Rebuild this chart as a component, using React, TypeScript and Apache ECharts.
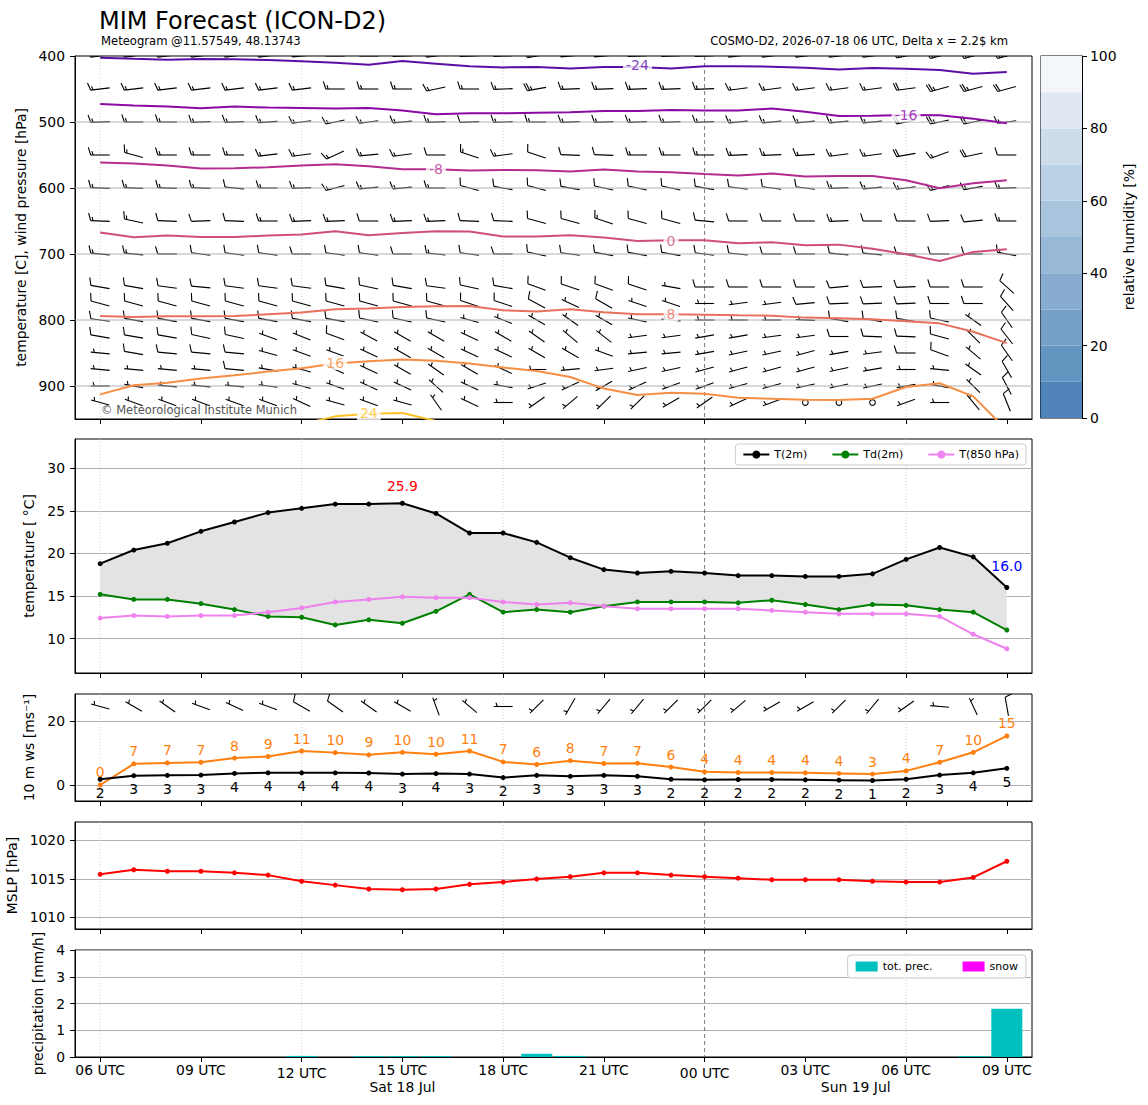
import React, { useEffect, useRef } from "react";
import * as echarts from "echarts";

const FONT = "DejaVu Sans";
const FS = 13.9;

// ---------- time axis ----------
const xMin = -0.75;
const xMax = 27.75;
const xTickValues = [0, 3, 6, 9, 12, 15, 18, 21, 24, 27];
const xTickLabels = ["06 UTC", "09 UTC", "12 UTC", "15 UTC", "18 UTC", "21 UTC", "00 UTC", "03 UTC", "06 UTC", "09 UTC"];
const lowTickLabels = ["12 UTC", "00 UTC"];
const dateLabelPos = [9, 22.5];
const dateLabels = ["Sat 18 Jul", "Sun 19 Jul"];
const sixHourLines = [0, 6, 12, 24];
const midnightLines = [18];

// ---------- surface data ----------
const t2m = [18.8, 20.4, 21.2, 22.6, 23.7, 24.8, 25.3, 25.8, 25.8, 25.9, 24.7, 22.4, 22.4, 21.3, 19.5, 18.1, 17.7, 17.9, 17.7, 17.4, 17.4, 17.3, 17.3, 17.6, 19.3, 20.7, 19.6, 16.0];
const td2m = [15.2, 14.6, 14.6, 14.1, 13.4, 12.6, 12.5, 11.6, 12.2, 11.8, 13.2, 15.2, 13.1, 13.4, 13.1, 13.8, 14.3, 14.3, 14.3, 14.2, 14.5, 14.0, 13.4, 14.0, 13.9, 13.4, 13.1, 11.0];
const t850 = [12.4, 12.7, 12.6, 12.7, 12.7, 13.1, 13.6, 14.3, 14.6, 14.9, 14.8, 14.8, 14.3, 14.0, 14.2, 13.8, 13.5, 13.5, 13.5, 13.5, 13.3, 13.1, 12.9, 12.9, 12.9, 12.6, 10.5, 8.8];
const gust = [0.0, 6.6, 6.9, 7.1, 8.4, 8.9, 10.6, 10.1, 9.4, 10.2, 9.6, 10.6, 7.2, 6.4, 7.6, 6.7, 6.8, 5.6, 4.1, 3.9, 3.9, 3.8, 3.6, 3.4, 4.4, 7.1, 10.2, 15.3];
const wspd = [1.8, 2.9, 3.0, 3.1, 3.6, 3.8, 3.8, 3.8, 3.75, 3.4, 3.55, 3.4, 2.3, 3.0, 2.7, 3.0, 2.7, 1.8, 1.6, 1.7, 1.7, 1.6, 1.5, 1.4, 1.8, 3.1, 3.8, 5.2];
const mslp = [1015.6, 1016.2, 1016.0, 1016.0, 1015.8, 1015.5, 1014.7, 1014.2, 1013.7, 1013.6, 1013.7, 1014.3, 1014.6, 1015.0, 1015.3, 1015.8, 1015.8, 1015.5, 1015.3, 1015.1, 1014.9, 1014.9, 1014.9, 1014.7, 1014.6, 1014.6, 1015.2, 1017.3];
const precip = [0, 0, 0, 0, 0, 0, 0.04, 0, 0.03, 0.03, 0.03, 0, 0, 0.12, 0.04, 0, 0, 0, 0, 0, 0, 0, 0, 0, 0, 0, 0.03, 1.8];
const snow = [0, 0, 0, 0, 0, 0, 0, 0, 0, 0, 0, 0, 0, 0, 0, 0, 0, 0, 0, 0, 0, 0, 0, 0, 0, 0, 0, 0];
const dir10 = [285, 300, 305, 290, 295, 290, 300, 305, 305, 300, 340, 310, 270, 225, 210, 220, 220, 225, 225, 230, 240, 240, 225, 220, 235, 275, 335, 350];
const spd10 = [5, 5, 5, 5, 5, 5, 10, 10, 5, 5, 5, 5, 5, 5, 5, 5, 5, 5, 5, 5, 5, 5, 5, 5, 5, 5, 5, 10];
const barb10Level = 24.5;

// ---------- isotherms (pressure in hPa per hour) ----------
const isoLevels = [-24, -16, -8, 0, 8, 16, 24];
const isoColors = ["#5b0ea6", "#8b0aa5", "#b42d8e", "#cf4f78", "#e8705c", "#f68f44", "#fcc229"];
const isoM24 = [402.5, 404.1, 405.6, 404.6, 405.1, 406.1, 408.1, 410.2, 413.2, 407.6, 411.7, 415.7, 417.3, 416.8, 418.8, 416.8, 416.8, 418.8, 415.7, 415.7, 416.2, 417.8, 420.3, 418.3, 419.3, 421.3, 426.9, 424.4];
const isoM16 = [472.6, 475.1, 476.6, 479.2, 476.6, 478.2, 478.7, 479.7, 478.7, 482.7, 488.3, 486.8, 486.8, 485.8, 485.3, 483.2, 483.2, 481.7, 482.7, 482.7, 479.7, 484.3, 490.9, 490.4, 489.3, 489.8, 494.9, 502.0];
const isoM8 = [561.4, 562.9, 566.0, 570.6, 570.1, 568.5, 566.0, 564.0, 567.0, 571.6, 571.6, 573.6, 572.6, 573.1, 575.1, 572.1, 575.1, 576.1, 578.7, 581.2, 578.2, 582.7, 581.7, 581.7, 588.3, 600.5, 592.9, 588.3];
const iso0 = [667.5, 674.6, 672.1, 674.1, 674.1, 672.1, 670.6, 665.5, 671.6, 668.0, 665.5, 666.0, 673.6, 673.6, 671.6, 675.1, 680.2, 679.2, 679.2, 683.8, 682.2, 686.8, 685.8, 691.9, 700.5, 710.7, 697.0, 692.9];
const iso8 = [793.9, 795.4, 794.4, 794.4, 793.9, 791.4, 788.8, 783.8, 782.7, 780.2, 779.2, 778.7, 785.3, 787.3, 783.8, 788.3, 791.4, 791.4, 791.9, 792.9, 793.4, 796.4, 797.5, 799.0, 802.0, 805.1, 817.8, 835.0];
const iso16 = [912.7, 899.0, 894.9, 888.8, 883.8, 878.2, 873.1, 866.0, 862.4, 859.9, 861.9, 866.0, 872.1, 877.2, 886.3, 903.9, 913.7, 910.1, 911.7, 917.8, 919.3, 920.8, 921.3, 919.3, 901.5, 895.9, 915.7, 967.0];
const iso24 = [null, null, null, null, null, null, 958, 946, 942, 941, 953, null, null, null, null, null, null, null, null, null, null, null, null, null, null, null, null, null];
const isoLines = [isoM24, isoM16, isoM8, iso0, iso8, iso16, iso24];
const isoLabelX = [16.0, 24.0, 10.0, 17.0, 17.0, 7.0, 8.0];
const isoLabelP = [414, 489, 571, 680, 791, 865, 941];

// ---------- upper-air wind barbs ----------
const barbLevels = [400, 450, 500, 550, 600, 650, 700, 750, 775, 800, 825, 850, 875, 900, 925];
const barbDirs = [
  [262, 262, 262, 262, 262, 262, 265, 270, 270, 268, 262, 268, 268, 260, 265, 265, 268, 268, 268, 262, 262, 262, 262, 262, 258, 255, 255, 255],
  [263, 263, 263, 263, 263, 263, 263, 270, 270, 270, 258, 270, 268, 260, 268, 268, 268, 268, 268, 262, 262, 262, 262, 262, 262, 255, 255, 255],
  [268, 270, 270, 268, 268, 266, 262, 258, 262, 265, 268, 268, 268, 270, 268, 268, 268, 268, 268, 265, 265, 265, 265, 265, 258, 258, 258, 262],
  [270, 285, 270, 270, 270, 263, 262, 245, 265, 262, 270, 288, 262, 288, 272, 272, 270, 270, 270, 268, 268, 266, 262, 262, 260, 250, 258, 270],
  [272, 272, 272, 272, 275, 270, 268, 255, 265, 265, 270, 285, 280, 285, 280, 282, 282, 282, 280, 278, 278, 278, 268, 265, 262, 255, 260, 268],
  [272, 282, 272, 268, 272, 270, 268, 268, 270, 268, 268, 272, 272, 285, 285, 288, 285, 285, 275, 270, 270, 270, 268, 270, 270, 268, 265, 270],
  [275, 275, 270, 278, 278, 278, 270, 278, 278, 270, 276, 278, 270, 282, 278, 280, 280, 280, 278, 276, 270, 270, 275, 275, 270, 270, 270, 280],
  [280, 280, 278, 275, 278, 278, 278, 280, 282, 280, 278, 282, 280, 290, 288, 290, 288, 280, 270, 270, 270, 270, 265, 268, 268, 270, 270, 312],
  [285, 285, 285, 285, 285, 285, 285, 285, 285, 285, 285, 288, 288, 298, 295, 300, 288, 288, 270, 262, 262, 265, 268, 268, 268, 270, 270, 318],
  [278, 280, 280, 280, 280, 280, 280, 280, 282, 282, 282, 285, 292, 300, 305, 300, 282, 275, 270, 270, 270, 272, 280, 280, 280, 282, 305, 325],
  [280, 280, 280, 282, 282, 290, 292, 290, 298, 300, 300, 295, 300, 305, 310, 308, 262, 262, 260, 260, 262, 262, 270, 272, 272, 285, 315, 322],
  [275, 280, 275, 275, 275, 285, 290, 290, 295, 300, 300, 295, 295, 300, 300, 290, 265, 265, 260, 258, 258, 255, 260, 262, 270, 290, 310, 325],
  [275, 275, 275, 275, 275, 280, 285, 295, 295, 300, 305, 300, 295, 270, 265, 262, 258, 258, 255, 255, 255, 255, 258, 260, 270, 275, 305, 330],
  [270, 280, 275, 275, 275, 278, 285, 290, 295, 295, 312, 295, 280, 252, 245, 240, 245, 250, 250, 255, 255, 258, 258, 258, 260, 280, 315, 332],
  [285, 290, 290, 290, 290, 290, 295, 285, 290, 285, 325, 295, 270, 235, 230, 225, 225, 240, 235, 245, 250, 0, 0, 0, 250, 270, 320, 338],
];
const barbSpeeds = [
  [20, 20, 20, 20, 20, 20, 20, 20, 20, 20, 20, 20, 20, 20, 20, 20, 20, 20, 20, 20, 20, 20, 20, 20, 25, 25, 25, 25],
  [15, 15, 15, 15, 15, 15, 15, 15, 15, 15, 15, 15, 15, 25, 15, 15, 15, 15, 15, 15, 15, 15, 15, 15, 20, 25, 25, 20],
  [15, 15, 15, 15, 15, 15, 15, 15, 15, 15, 15, 10, 15, 15, 15, 15, 15, 15, 15, 15, 15, 15, 15, 15, 20, 25, 20, 15],
  [15, 15, 15, 15, 15, 15, 15, 15, 15, 15, 10, 15, 15, 10, 10, 10, 15, 15, 15, 15, 15, 15, 15, 15, 20, 15, 20, 10],
  [15, 15, 15, 15, 10, 15, 15, 15, 15, 15, 15, 10, 10, 10, 10, 10, 10, 10, 10, 10, 10, 10, 15, 15, 15, 15, 15, 15],
  [15, 15, 10, 10, 10, 15, 15, 15, 10, 15, 15, 10, 10, 10, 10, 15, 10, 10, 10, 10, 10, 10, 15, 10, 10, 10, 10, 15],
  [15, 15, 10, 10, 10, 10, 10, 10, 10, 10, 15, 10, 10, 10, 10, 10, 10, 10, 10, 10, 10, 10, 10, 10, 10, 10, 10, 15],
  [10, 10, 10, 10, 10, 10, 10, 10, 10, 10, 10, 10, 10, 10, 10, 10, 10, 5, 10, 10, 10, 10, 10, 10, 10, 10, 10, 10],
  [10, 10, 10, 10, 10, 10, 10, 10, 10, 10, 10, 10, 10, 10, 5, 10, 5, 5, 5, 5, 5, 10, 10, 10, 10, 10, 10, 10],
  [10, 10, 10, 10, 10, 10, 10, 10, 10, 10, 10, 5, 5, 5, 5, 5, 5, 5, 5, 5, 5, 5, 10, 10, 10, 10, 5, 10],
  [10, 10, 10, 10, 10, 5, 5, 10, 5, 5, 5, 5, 5, 5, 5, 5, 5, 5, 5, 5, 5, 5, 10, 10, 10, 10, 5, 10],
  [5, 10, 10, 10, 10, 5, 5, 5, 5, 5, 5, 5, 5, 5, 5, 5, 5, 5, 5, 5, 5, 5, 5, 5, 10, 10, 5, 10],
  [5, 5, 5, 5, 10, 5, 5, 5, 5, 5, 5, 5, 5, 5, 5, 5, 5, 5, 5, 5, 5, 5, 5, 5, 5, 5, 5, 10],
  [5, 5, 5, 5, 5, 5, 5, 5, 5, 5, 5, 5, 5, 5, 5, 5, 5, 5, 5, 5, 5, 5, 5, 5, 5, 5, 5, 10],
  [5, 5, 5, 5, 5, 5, 5, 5, 5, 5, 5, 5, 5, 5, 5, 5, 5, 5, 5, 5, 5, 0, 0, 0, 5, 5, 5, 10],
];
const pressureGridLevels = [500, 600, 700, 800, 900];

// ---------- colorbar ----------
const rhLevels = [0, 10, 20, 30, 40, 50, 60, 70, 80, 90, 100];
const rhColors = ["#5084b8", "#6395c1", "#75a0c8", "#87acd0", "#98b8d7", "#a9c5de", "#bbd1e6", "#cdddec", "#e0e9f3", "#f3f7fb"];

const BARB_LEN = 19;

function makeBarb(cx: number, cy: number, dir: number, spd: number, L: number) {
  const out: any[] = [];
  const st = { stroke: "#000", lineWidth: 1.1, fill: "none" };
  const mag = 5 * Math.round(spd / 5);
  if (mag < 5) {
    out.push({ type: "circle", shape: { cx, cy, r: 0.15 * L }, style: { ...st } });
    return out;
  }
  const a = (dir * Math.PI) / 180;
  const dx = Math.sin(a);
  const dy = -Math.cos(a);
  const nx = -dy;
  const ny = dx;
  const ex = cx + (dx * L) / 2;
  const ey = cy + (dy * L) / 2;
  const sx = cx - (dx * L) / 2;
  const sy = cy - (dy * L) / 2;
  out.push({ type: "line", shape: { x1: sx, y1: sy, x2: ex, y2: ey }, style: { ...st } });
  const H = 0.4 * L;
  const Wd = 0.25 * L;
  const S = 0.125 * L;
  const full = Math.floor(mag / 10);
  const half = mag - full * 10 >= 5;
  let off = 0;
  for (let i = 0; i < full; i++) {
    const bx = ex - dx * off;
    const by = ey - dy * off;
    out.push({ type: "line", shape: { x1: bx, y1: by, x2: bx + nx * H + (dx * Wd) / 2, y2: by + ny * H + (dy * Wd) / 2 }, style: { ...st } });
    off += S;
  }
  if (half) {
    if (off === 0) off = 1.5 * S;
    const bx = ex - dx * off;
    const by = ey - dy * off;
    out.push({ type: "line", shape: { x1: bx, y1: by, x2: bx + (nx * H) / 2 + (dx * Wd) / 4, y2: by + (ny * H) / 2 + (dy * Wd) / 4 }, style: { ...st } });
  }
  return out;
}

const barbRender = (params: any, api: any) => {
  const c = api.coord([api.value(0), api.value(1)]);
  return { type: "group", silent: true, children: makeBarb(c[0], c[1], api.value(2), api.value(3), BARB_LEN) };
};

const vlineRender = (params: any, api: any) => {
  const x = api.coord([api.value(0), api.value(1)])[0];
  const cs = params.coordSys;
  const dashed = api.value(2) === 1;
  return {
    type: "line",
    silent: true,
    shape: { x1: x, y1: cs.y, x2: x, y2: cs.y + cs.height },
    style: dashed ? { stroke: "#555", lineWidth: 0.8, lineDash: [4, 3] } : { stroke: "#c4c4c4", lineWidth: 0.8, lineDash: [1, 2] },
  };
};

function vlineSeries(gi: number, yRef: number) {
  const data = [...sixHourLines.map((v) => [v, yRef, 0]), ...midnightLines.map((v) => [v, yRef, 1])];
  return { type: "custom", name: "vlines" + gi, xAxisIndex: gi, yAxisIndex: gi, data, renderItem: vlineRender, silent: true, z: 1, encode: { x: 0, y: 1 } };
}

function xTickFormatter(v: number) {
  const i = xTickValues.indexOf(Math.round(v));
  const s = i >= 0 ? xTickLabels[i] : "";
  return lowTickLabels.includes(s) ? `{lo|${s}}` : s;
}

function xAxisFor(gi: number, showLabels: boolean) {
  return {
    type: "value",
    gridIndex: gi,
    min: xMin,
    max: xMax,
    axisLine: { show: true, onZero: false, lineStyle: { color: "#000", width: 1 } },
    axisTick: { show: true, customValues: xTickValues, length: 5, lineStyle: { color: "#000", width: 1 } },
    axisLabel: {
      show: showLabels,
      customValues: xTickValues,
      formatter: xTickFormatter,
      margin: 6,
      color: "#000",
      fontSize: FS,
      fontFamily: FONT,
      rich: { lo: { padding: [3, 0, 0, 0], fontSize: FS, fontFamily: FONT, color: "#000" } },
    },
    splitLine: { show: false },
  };
}

function yAxisFor(gi: number, o: any) {
  return {
    type: "value",
    gridIndex: gi,
    axisLine: { show: true, onZero: false, lineStyle: { color: "#000", width: 1 } },
    axisTick: { show: true, length: 5, lineStyle: { color: "#000" }, customValues: o.ticks },
    axisLabel: { color: "#000", fontSize: FS, fontFamily: FONT, margin: 10, customValues: o.ticks, formatter: (v: number) => String(v) },
    splitLine: { show: o.split !== false, lineStyle: { color: "#b0b0b0", width: 1 } },
    nameLocation: "middle",
    nameTextStyle: { color: "#000", fontSize: FS, fontFamily: FONT },
    ...o.extra,
  };
}

function buildOption() {
  const hours = t2m.map((_, i) => i);
  const pairs = (arr: any[]) => arr.map((v, i) => [hours[i], v]).filter((d) => d[1] !== null);

  const barbData: any[] = [];
  barbLevels.forEach((p, r) => {
    barbDirs[r].forEach((d, i) => barbData.push([hours[i], p, d, barbSpeeds[r][i]]));
  });
  const barb10Data = dir10.map((d, i) => [hours[i], barb10Level, d, spd10[i]]);

  const tMax = Math.max(...t2m);
  const iMax = t2m.indexOf(tMax);
  const tMin = Math.min(...t2m);
  const iMin = t2m.lastIndexOf(tMin);

  const grids = [
    { left: 75, top: 56, width: 957, height: 363 },
    { left: 75, top: 439, width: 957, height: 234 },
    { left: 75, top: 694, width: 957, height: 107 },
    { left: 75, top: 822, width: 957, height: 107 },
    { left: 75, top: 950, width: 957, height: 107 },
    { left: 1040.5, top: 56, width: 41.5, height: 362 },
  ].map((g) => ({ ...g, show: true, borderColor: "#000", borderWidth: 1, backgroundColor: "transparent", containLabel: false, outerBoundsMode: "none" }));

  const xAxes: any[] = [
    xAxisFor(0, false),
    xAxisFor(1, false),
    xAxisFor(2, false),
    xAxisFor(3, false),
    xAxisFor(4, true),
    { type: "value", gridIndex: 5, min: 0, max: 1, show: false },
    {
      type: "value",
      gridIndex: 4,
      position: "bottom",
      min: xMin,
      max: xMax,
      axisLine: { show: false, onZero: false },
      axisTick: { show: false, customValues: dateLabelPos },
      splitLine: { show: false },
      axisLabel: {
        show: true,
        customValues: dateLabelPos,
        margin: 23,
        color: "#000",
        fontSize: FS,
        fontFamily: FONT,
        formatter: (v: number) => {
          const i = dateLabelPos.indexOf(v);
          return i >= 0 ? dateLabels[i] : "";
        },
      },
    },
  ];

  const yAxes: any[] = [
    yAxisFor(0, { ticks: [400, 500, 600, 700, 800, 900], split: false, extra: { inverse: true, min: 400, max: 950, name: "temperature [C], wind pressure [hPa]", nameGap: 43 } }),
    yAxisFor(1, { ticks: [10, 15, 20, 25, 30], extra: { min: 5.95, max: 33.45, name: "temperature [ °C]", nameGap: 36 } }),
    yAxisFor(2, { ticks: [0, 20], extra: { min: -5, max: 28.4, name: "10 m ws [ms⁻¹]", nameGap: 36 } }),
    yAxisFor(3, { ticks: [1010, 1015, 1020], extra: { min: 1008.5, max: 1022.4, name: "MSLP [hPa]", nameGap: 49 } }),
    yAxisFor(4, { ticks: [0, 1, 2, 3, 4], extra: { min: 0, max: 4, name: "precipitation [mm/h]", nameGap: 25 } }),
    {
      type: "value",
      gridIndex: 5,
      position: "right",
      min: 0,
      max: 100,
      interval: 20,
      axisLine: { show: true, onZero: false, lineStyle: { color: "#000" } },
      axisTick: { show: true, length: 5, lineStyle: { color: "#000" } },
      axisLabel: { color: "#000", fontSize: FS, fontFamily: FONT, margin: 8 },
      splitLine: { show: false },
      name: "relative humidity [%]",
      nameLocation: "middle",
      nameRotate: 90,
      nameGap: 40,
      nameTextStyle: { color: "#000", fontSize: FS, fontFamily: FONT },
    },
  ];

  const series: any[] = [];

  // ---- panel 0: barbs, grid overlay, isotherms ----
  series.push({ type: "custom", name: "barbs", xAxisIndex: 0, yAxisIndex: 0, data: barbData, renderItem: barbRender, clip: true, silent: true, z: 2, encode: { x: 0, y: 1 } });
  series.push({
    type: "custom",
    name: "pgrid",
    xAxisIndex: 0,
    yAxisIndex: 0,
    data: pressureGridLevels.map((p) => [hours[0], p]),
    silent: true,
    z: 3,
    encode: { x: 0, y: 1 },
    renderItem: (params: any, api: any) => {
      const c = api.coord([api.value(0), api.value(1)]);
      const cs = params.coordSys;
      return { type: "line", silent: true, shape: { x1: cs.x, y1: c[1], x2: cs.x + cs.width, y2: c[1] }, style: { stroke: "#b0b0b0", lineWidth: 1 } };
    },
  });
  series.push(vlineSeries(0, 400));
  isoLines.forEach((arr, k) => {
    series.push({
      type: "line",
      name: "iso" + isoLevels[k],
      xAxisIndex: 0,
      yAxisIndex: 0,
      data: pairs(arr),
      symbol: "none",
      silent: true,
      z: 4,
      lineStyle: { color: isoColors[k], width: 2 },
    });
  });
  series.push({
    type: "scatter",
    name: "isoLabels",
    xAxisIndex: 0,
    yAxisIndex: 0,
    symbol: "rect",
    symbolSize: 1,
    silent: true,
    z: 5,
    itemStyle: { color: "rgba(0,0,0,0)" },
    data: isoLevels.map((lv, k) => ({
      value: [isoLabelX[k], isoLabelP[k]],
      label: {
        show: true,
        position: "inside",
        formatter: String(lv),
        color: isoColors[k],
        fontSize: 14,
        fontFamily: FONT,
        backgroundColor: "#fff",
        padding: [0, 3],
      },
    })),
  });

  // ---- colorbar ----
  series.push({
    type: "custom",
    name: "colorbar",
    xAxisIndex: 5,
    yAxisIndex: 5,
    silent: true,
    data: rhColors.map((c, i) => [0, rhLevels[i], 1, rhLevels[i + 1], i]),
    encode: { x: [0, 2], y: [1, 3] },
    renderItem: (params: any, api: any) => {
      const a = api.coord([api.value(0), api.value(1)]);
      const b = api.coord([api.value(2), api.value(3)]);
      return { type: "rect", shape: { x: a[0], y: b[1], width: b[0] - a[0], height: a[1] - b[1] }, style: { fill: rhColors[api.value(4)] } };
    },
  });

  // ---- panel 1: temperatures ----
  series.push(vlineSeries(1, 10));
  series.push({
    type: "custom",
    name: "tfill",
    xAxisIndex: 1,
    yAxisIndex: 1,
    silent: true,
    z: 1,
    data: [[hours[0], t2m[0]]],
    encode: { x: 0, y: 1 },
    renderItem: (params: any, api: any) => {
      const up = t2m.map((v, i) => api.coord([hours[i], v]));
      const lo = td2m.map((v, i) => api.coord([hours[i], v])).reverse();
      return { type: "polygon", shape: { points: up.concat(lo) }, style: { fill: "#e3e3e3" } };
    },
  });
  const lineS = (name: string, arr: number[], color: string, gi: number, extra: any = {}) => ({
    type: "line",
    name,
    xAxisIndex: gi,
    yAxisIndex: gi,
    data: pairs(arr),
    symbol: "circle",
    symbolSize: 5,
    showSymbol: true,
    z: 3,
    lineStyle: { color, width: 2 },
    itemStyle: { color },
    emphasis: { disabled: true },
    ...extra,
  });
  series.push(
    lineS("T(2m)", t2m, "#000000", 1, {
      z: 4,
      markPoint: {
        symbol: "rect",
        symbolSize: 1,
        silent: true,
        itemStyle: { color: "rgba(0,0,0,0)" },
        label: { show: true, position: "inside", fontSize: FS, fontFamily: FONT },
        data: [
          { coord: [hours[iMax], tMax + 2.0], value: tMax.toFixed(1), label: { color: "#ff0000", formatter: tMax.toFixed(1) } },
          { coord: [hours[iMin], tMin + 2.5], value: tMin.toFixed(1), label: { color: "#0000ff", formatter: tMin.toFixed(1) } },
        ],
      },
    })
  );
  series.push(lineS("Td(2m)", td2m, "#008000", 1));
  series.push(lineS("T(850 hPa)", t850, "#ee82ee", 1));

  // ---- panel 2: 10 m wind ----
  series.push(vlineSeries(2, 0));
  series.push({ type: "custom", name: "barbs10", xAxisIndex: 2, yAxisIndex: 2, data: barb10Data, renderItem: barbRender, clip: true, silent: true, z: 2, encode: { x: 0, y: 1 } });
  series.push(
    lineS("gust", gust, "#ff7f0e", 2, {
      label: { show: true, position: "top", distance: 3, color: "#ff7f0e", fontSize: FS, fontFamily: FONT, formatter: (p: any) => String(Math.round(p.value[1])) },
    })
  );
  series.push(
    lineS("ws", wspd, "#000000", 2, {
      label: { show: true, position: "bottom", distance: 4, color: "#000", fontSize: FS, fontFamily: FONT, formatter: (p: any) => String(Math.round(p.value[1])) },
    })
  );

  // ---- panel 3: MSLP ----
  series.push(vlineSeries(3, 1010));
  series.push(lineS("MSLP", mslp, "#ff0000", 3));

  // ---- panel 4: precipitation ----
  series.push(vlineSeries(4, 0));
  series.push({ type: "bar", name: "tot. prec.", xAxisIndex: 4, yAxisIndex: 4, data: pairs(precip), barWidth: 31, barGap: "-100%", itemStyle: { color: "#00bfbf" }, z: 3, silent: true });
  series.push({ type: "bar", name: "snow", xAxisIndex: 4, yAxisIndex: 4, data: pairs(snow), barWidth: 31, barGap: "-100%", itemStyle: { color: "#ff00ff" }, z: 3, silent: true });

  const legendBase = {
    orient: "horizontal",
    backgroundColor: "rgba(255,255,255,0.85)",
    borderColor: "#cccccc",
    borderWidth: 1,
    borderRadius: 3,
    textStyle: { color: "#000", fontSize: 11, fontFamily: FONT },
    selectedMode: false,
  };

  return {
    animation: false,
    backgroundColor: "#fff",
    textStyle: { fontFamily: FONT },
    grid: grids,
    xAxis: xAxes,
    yAxis: yAxes,
    legend: [
      { ...legendBase, data: ["T(2m)", "Td(2m)", "T(850 hPa)"], right: 122, top: 444, padding: [5, 7], itemGap: 24, itemWidth: 26, itemHeight: 10 },
      { ...legendBase, data: ["tot. prec.", "snow"], right: 122, top: 955, padding: [6, 8], itemGap: 30, itemWidth: 22, itemHeight: 10, icon: "rect" },
    ],
    graphic: [
      { type: "text", x: 99, y: 21, silent: true, style: { text: "MIM Forecast (ICON-D2)", fontSize: 24, fontFamily: FONT, fill: "#000", align: "left", verticalAlign: "middle" } },
      { type: "text", x: 101, y: 41, silent: true, style: { text: "Meteogram @11.57549, 48.13743", fontSize: 11.6, fontFamily: FONT, fill: "#000", align: "left", verticalAlign: "middle" } },
      { type: "text", x: 1008, y: 41, silent: true, style: { text: "COSMO-D2, 2026-07-18 06 UTC, Delta x = 2.2$ km", fontSize: 11.6, fontFamily: FONT, fill: "#000", align: "right", verticalAlign: "middle" } },
      { type: "text", x: 101, y: 410, silent: true, z: 10, style: { text: "© Meteorological Institute Munich", fontSize: 11.5, fontFamily: FONT, fill: "#555", align: "left", verticalAlign: "middle" } },
    ],
    series,
  };
}

export default function App() {
  const ref = useRef<HTMLDivElement>(null);
  useEffect(() => {
    document.body.style.margin = "0";
    if (!ref.current) return;
    const chart = echarts.init(ref.current, null, { renderer: "svg" });
    chart.setOption(buildOption() as any);
    return () => chart.dispose();
  }, []);
  return <div ref={ref} style={{ width: 1148, height: 1105 }} />;
}
